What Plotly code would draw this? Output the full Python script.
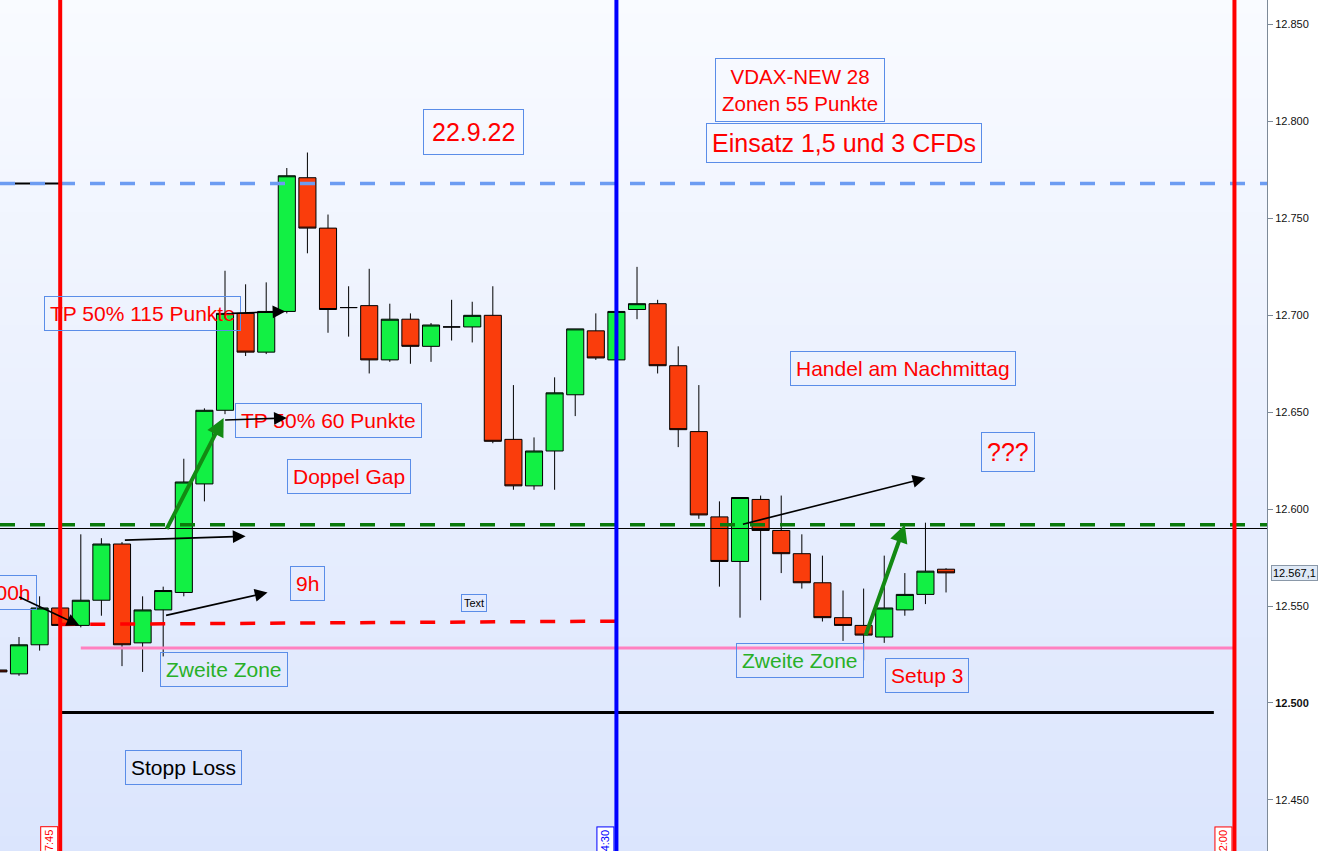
import pandas as pd
import plotly.graph_objects as go

DAY = "2022-09-22"

def ts(hhmm):
    return f"{DAY} {hhmm}"

# ---- candle data (15-minute bars) ----
candle_times = ["07:00", "07:15", "07:30", "07:45", "08:00", "08:15", "08:30", "08:45",
                "09:00", "09:15", "09:30", "09:45", "10:00", "10:15", "10:30", "10:45",
                "11:00", "11:15", "11:30", "11:45", "12:00", "12:15", "12:30", "12:45",
                "13:00", "13:15", "13:30", "13:45", "14:00", "14:15", "14:30", "14:45",
                "15:00", "15:15", "15:30", "15:45", "16:00", "16:15", "16:30", "16:45",
                "17:00", "17:15", "17:30", "17:45", "18:00", "18:15", "18:30"]
open_ = [12517, 12515, 12530, 12549, 12540, 12553, 12582, 12531, 12548, 12557, 12613, 12651,
         12701, 12681, 12702, 12771, 12745, 12704, 12705, 12677, 12698, 12684, 12694, 12694,
         12700, 12636, 12612, 12630, 12659, 12692, 12677, 12703, 12706, 12674, 12640, 12596,
         12573, 12605, 12589, 12577, 12562, 12544, 12540, 12534, 12548, 12556, 12569]
high = [12517.5, 12534, 12555, 12550, 12587, 12585, 12583, 12555, 12560, 12626, 12652, 12723,
        12716, 12717, 12776, 12784, 12752, 12715, 12724, 12706, 12701, 12696, 12708, 12707,
        12715, 12664, 12637, 12668, 12693, 12701, 12702, 12725, 12708, 12684, 12664, 12604,
        12606, 12607, 12607, 12587, 12576, 12558, 12559, 12576, 12567, 12593, 12569.5]
low = [12516, 12514, 12527, 12539, 12539, 12545, 12519, 12516, 12524, 12555, 12604, 12649,
       12679, 12680, 12701, 12732, 12691, 12689, 12670, 12676, 12675, 12676, 12687, 12686,
       12634, 12610, 12610, 12610, 12648, 12677, 12677, 12698, 12670, 12632, 12595, 12560,
       12544, 12553, 12567, 12559, 12542, 12532, 12522, 12531, 12545, 12551, 12557]
close = [12516, 12530, 12549, 12540, 12553, 12582, 12530, 12548, 12558, 12614, 12651, 12701,
         12681, 12702, 12772, 12745, 12703, 12704, 12677, 12698, 12684, 12695, 12694, 12700,
         12635, 12612, 12630, 12660, 12693, 12678, 12702, 12706, 12674, 12641, 12597, 12573,
         12606, 12589, 12577, 12562, 12544, 12540, 12535, 12549, 12556, 12568, 12567.1]

# ---- axis ----
y_tick_vals = [12450, 12500, 12550, 12600, 12650, 12700, 12750, 12800, 12850]
y_tick_text = ["12.450", "<b>12.500</b>", "12.550", "12.600", "12.650", "12.700",
               "12.750", "12.800", "12.850"]
last_price = 12567.1
last_price_text = "12.567,1"

# ---- drawn levels ----
blue_level = 12768
green_level = 12592
price_line_level = 12590
red_level = [12540.5, 12542.2]
red_level_times = ["07:45", "14:30"]
pink_level = 12528.3
pink_times = ["08:00", "22:00"]
stop_level = 12495
stop_times = ["07:45", "21:45"]

vline_times = ["07:45", "14:30", "22:00"]
vline_labels = ["07:45", "14:30", "22:00"]
vline_colors = ["#ff0000", "#0000ff", "#ff0000"]

# ---- arrows: tail time, tail price, head time, head price, kind ----
arrows = [
    ("07:14", 12555, "07:59", 12540, "black"),
    ("08:31", 12584, "10:00", 12586, "black"),
    ("09:01", 12545, "10:16", 12557, "black"),
    ("09:02", 12589, "09:44", 12647, "green"),
    ("09:44", 12646, "10:30", 12647, "black"),
    ("09:49", 12701, "10:29", 12702, "black"),
    ("16:01", 12592, "18:15", 12616, "black"),
    ("17:31", 12534, "18:00", 12592, "green"),
]

# ---- text boxes: text, time, price, color, size, xanchor, pad ----
RED = "#ff0000"
GRN = "#28b028"
labels = [
    ("VDAX-NEW 28<br>Zonen 55 Punkte", "16:44", 12816.3, RED, 20.5, "center", 6),
    ("Einsatz 1,5 und 3 CFDs", "17:16", 12788.9, RED, 25, "center", 5),
    ("22.9.22", "12:46", 12794.6, RED, 25, "center", 8),
    ("TP 50% 115 Punkte", "08:45", 12701.2, RED, 21, "center", 5),
    ("TP 50% 60 Punkte", "11:00", 12645.5, RED, 21, "center", 5),
    ("Doppel Gap", "11:15", 12616.6, RED, 21, "center", 5),
    ("9h", "10:45", 12561.4, RED, 21, "center", 5),
    ("8:00h", "07:28", 12557.2, RED, 21, "right", 5),
    ("Text", "12:46", 12551.5, "#000000", 11, "center", 2),
    ("Zweite Zone", "09:44", 12517.5, GRN, 21, "center", 5),
    ("Zweite Zone", "16:44", 12522.1, GRN, 21, "center", 5),
    ("Setup 3", "18:16", 12513.9, RED, 21, "center", 5),
    ("Stopp Loss", "09:15", 12466.9, "#000000", 21, "center", 5),
    ("Handel am Nachmittag", "17:59", 12672.8, RED, 21, "center", 5),
    ("???", "19:15", 12629.5, RED, 25, "center", 5),
]

FONT = "Liberation Sans, Arial, sans-serif"
BOX = "#5a8de8"

x_vals = [ts(t) for t in candle_times]

fig = go.Figure()
fig.add_trace(go.Candlestick(
    x=x_vals, open=open_, high=high, low=low, close=close,
    increasing=dict(fillcolor="#12f044", line=dict(color="#000000", width=1)),
    decreasing=dict(fillcolor="#fa3d0c", line=dict(color="#000000", width=1)),
    showlegend=False, hoverinfo="skip",
))

shapes = []
# background gradient bands
n_bands = 60
top_c = (249, 251, 255)
bot_c = (219, 229, 253)
for i in range(n_bands):
    f = (i + 0.5) / n_bands
    c = tuple(round(top_c[k] + (bot_c[k] - top_c[k]) * f) for k in range(3))
    shapes.append(dict(type="rect", xref="paper", yref="paper", x0=0, x1=1,
                       y0=1 - (i + 1) / n_bands, y1=1 - i / n_bands + 0.001,
                       fillcolor="rgb(%d,%d,%d)" % c, line=dict(width=0), layer="below"))

# horizontal levels
shapes.append(dict(type="line", xref="paper", yref="y", x0=0, x1=0.049,
                   y0=blue_level, y1=blue_level, line=dict(color="#000000", width=2)))
shapes.append(dict(type="line", xref="paper", yref="y", x0=0, x1=1,
                   y0=blue_level, y1=blue_level,
                   line=dict(color="#6c9cf2", width=3.5, dash="15px,15px")))
shapes.append(dict(type="line", xref="paper", yref="y", x0=0, x1=1,
                   y0=green_level, y1=green_level,
                   line=dict(color="#0b7a0b", width=3.5, dash="15px,15px")))
shapes.append(dict(type="line", xref="paper", yref="y", x0=0, x1=1,
                   y0=price_line_level, y1=price_line_level,
                   line=dict(color="#000000", width=1)))
shapes.append(dict(type="line", xref="x", yref="y",
                   x0=ts(red_level_times[0]), x1=ts(red_level_times[1]),
                   y0=red_level[0], y1=red_level[1],
                   line=dict(color="#ff0000", width=3.5, dash="15px,15px")))
shapes.append(dict(type="line", xref="x", yref="y",
                   x0=ts(pink_times[0]), x1=ts(pink_times[1]),
                   y0=pink_level, y1=pink_level,
                   line=dict(color="#ff80c0", width=3)))
shapes.append(dict(type="line", xref="x", yref="y",
                   x0=ts(stop_times[0]), x1=ts(stop_times[1]),
                   y0=stop_level, y1=stop_level,
                   line=dict(color="#000000", width=3)))
# vertical session lines
for t, c in zip(vline_times, vline_colors):
    shapes.append(dict(type="line", xref="x", yref="paper", x0=ts(t), x1=ts(t),
                       y0=0, y1=1, line=dict(color=c, width=4)))

annotations = []
for text, t, p, col, size, xa, pad in labels:
    annotations.append(dict(
        x=ts(t), y=p, xref="x", yref="y", text=text, showarrow=False,
        xanchor=xa, yanchor="middle",
        font=dict(family=FONT, size=size, color=col),
        bordercolor=BOX, borderwidth=1, borderpad=pad,
        bgcolor="rgba(0,0,0,0)", align="center"))

for t0, p0, t1, p1, kind in arrows:
    if kind == "green":
        col, w, s = "#138a13", 4, 0.9
    else:
        col, w, s = "#000000", 1.6, 1.6
    annotations.append(dict(
        x=ts(t1), y=p1, ax=ts(t0), ay=p0, xref="x", yref="y", axref="x", ayref="y",
        text="", showarrow=True, arrowhead=2, arrowsize=s, arrowwidth=w,
        arrowcolor=col, standoff=0))

# time labels at the bottom of vertical lines (cut by the lower edge as in the source)
for t, lab, c in zip(vline_times, vline_labels, vline_colors):
    annotations.append(dict(
        x=ts(t), y=1 - 826 / 851, xref="x", yref="paper", text=lab, showarrow=False,
        textangle=-90, xanchor="right", yanchor="top", xshift=-2,
        font=dict(family=FONT, size=11, color=c),
        bordercolor=c, borderwidth=1, borderpad=2, bgcolor="#ffffff"))

# last price label on the axis
annotations.append(dict(
    x=1, y=last_price, xref="paper", yref="y", text=last_price_text, showarrow=False,
    xanchor="left", yanchor="middle", xshift=4,
    font=dict(family=FONT, size=11, color="#000000"),
    bordercolor="#8a98a8", borderwidth=1, borderpad=1, bgcolor="#dfe9f6"))

fig.update_layout(
    width=1319, height=851,
    margin=dict(l=0, r=52, t=0, b=0),
    paper_bgcolor="#ffffff", plot_bgcolor="#f2f6fe",
    boxgap=0.17, boxgroupgap=0,
    shapes=shapes, annotations=annotations,
    showlegend=False,
    font=dict(family=FONT),
    xaxis=dict(range=[ts("07:01:10"), ts("22:23:42")], visible=False,
               rangeslider=dict(visible=False), showgrid=False, zeroline=False),
    yaxis=dict(range=[12423.6, 12862.7], side="right", showgrid=False, zeroline=False,
               tickvals=y_tick_vals, ticktext=y_tick_text,
               ticks="outside", ticklen=5, tickcolor="#7d8a98", tickwidth=1,
               showline=True, linecolor="#7d8a98", linewidth=1,
               tickfont=dict(family=FONT, size=11, color="#111111")),
)

fig.write_html("out.html", config={"displayModeBar": False},
               post_script="document.body.style.margin='0';")
